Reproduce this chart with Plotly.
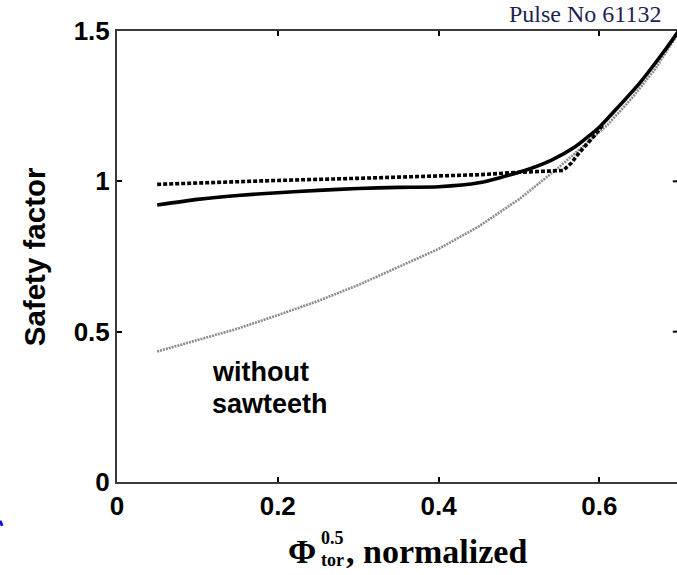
import plotly.graph_objects as go

# Normalised toroidal flux coordinate and safety-factor profiles
rho_solid = [0.05, 0.10, 0.15, 0.20, 0.25, 0.30, 0.35, 0.40, 0.45, 0.50,
             0.54, 0.57, 0.60, 0.62, 0.65, 0.68, 0.70]
q_solid = [0.921, 0.940, 0.953, 0.962, 0.970, 0.976, 0.980, 0.982, 0.995, 1.030,
           1.070, 1.115, 1.180, 1.237, 1.326, 1.430, 1.505]

rho_dashed = [0.05, 0.10, 0.20, 0.30, 0.40, 0.45, 0.50, 0.555, 0.565, 0.575,
              0.585, 0.595, 0.605]
q_dashed = [0.990, 0.995, 1.003, 1.010, 1.016, 1.022, 1.030, 1.036, 1.060, 1.095,
            1.125, 1.155, 1.190]

rho_nosaw = [0.05, 0.10, 0.15, 0.20, 0.25, 0.30, 0.35, 0.40, 0.45, 0.50,
             0.55, 0.58, 0.61, 0.64, 0.67, 0.70]
q_nosaw = [0.434, 0.471, 0.510, 0.555, 0.602, 0.655, 0.714, 0.775, 0.850, 0.940,
           1.047, 1.116, 1.187, 1.275, 1.375, 1.500]

x_ticks = [0, 0.2, 0.4, 0.6]
x_tick_labels = ["0", "0.2", "0.4", "0.6"]
y_ticks = [0, 0.5, 1, 1.5]
y_tick_labels = ["0", "0.5", "1", "1.5"]
right_ticks = [0.5, 1]

X_RANGE = [0, 0.6967]
Y_RANGE = [0, 1.5]

fig = go.Figure()

fig.add_trace(go.Scatter(
    x=rho_nosaw, y=q_nosaw, mode="lines",
    line=dict(color="#8c8c8c", width=2.6, dash="2px,1px"),
    showlegend=False, hoverinfo="skip"))
fig.add_trace(go.Scatter(
    x=rho_solid, y=q_solid, mode="lines",
    line=dict(color="black", width=3.6, shape="spline", smoothing=0.6),
    showlegend=False, hoverinfo="skip"))
fig.add_trace(go.Scatter(
    x=rho_dashed, y=q_dashed, mode="lines",
    line=dict(color="black", width=3.6, dash="4px,2px"),
    showlegend=False, hoverinfo="skip"))

tick_font = dict(family="Liberation Sans, Arial, sans-serif", size=26,
                 color="black", weight="bold")

fig.update_layout(
    width=677, height=575,
    margin=dict(l=117, r=0, t=31, b=93),
    paper_bgcolor="white", plot_bgcolor="white",
    xaxis=dict(
        range=X_RANGE, tickvals=x_ticks, ticktext=x_tick_labels,
        showgrid=False, zeroline=False,
        showline=True, linecolor="#3a3a3a", linewidth=2, mirror="ticks",
        ticks="inside", ticklen=5, tickwidth=1.5, tickcolor="black",
        tickfont=tick_font),
    yaxis=dict(
        range=Y_RANGE, tickvals=y_ticks, ticktext=y_tick_labels,
        showgrid=False, zeroline=False,
        showline=True, linecolor="#3a3a3a", linewidth=2, mirror=False,
        ticks="inside", ticklen=5, tickwidth=1.5, tickcolor="black",
        tickfont=tick_font),
)

# inward tick marks along the right-hand border
for yv in right_ticks:
    fig.add_shape(type="line", xref="paper", yref="y",
                  x0=0.9925, x1=1.0, y0=yv, y1=yv,
                  line=dict(color="black", width=2))

sans_bold = dict(family="Liberation Sans, Arial, sans-serif", size=27,
                 color="black", weight="bold")
serif_bold = "Liberation Serif, Times New Roman, serif"

annotations = [
    dict(text="Pulse No 61132", xref="paper", yref="paper", x=0.975, y=1.0385,
         xanchor="right", yanchor="middle", showarrow=False,
         font=dict(family="Liberation Serif, Times New Roman, serif", size=24,
                   color="#1f1f52")),
    dict(text="without", xref="x", yref="y", x=0.1157, y=0.366,
         xanchor="left", yanchor="middle", showarrow=False, font=sans_bold),
    dict(text="sawteeth", xref="x", yref="y", x=0.1157, y=0.258,
         xanchor="left", yanchor="middle", showarrow=False, font=sans_bold),
    dict(text="Safety factor", xref="paper", yref="paper", x=-0.146, y=0.499,
         xanchor="center", yanchor="middle", textangle=-90, showarrow=False,
         font=dict(family="Liberation Sans, Arial, sans-serif", size=29.5,
                   color="black", weight="bold")),
    dict(text="Φ", xref="paper", yref="paper", x=0.330, y=-0.153,
         xanchor="center", yanchor="middle", showarrow=False,
         font=dict(family=serif_bold, size=34, color="black", weight="bold")),
    dict(text="0.5", xref="paper", yref="paper", x=0.361, y=-0.125,
         xanchor="left", yanchor="middle", showarrow=False,
         font=dict(family=serif_bold, size=18, color="black", weight="bold")),
    dict(text="tor", xref="paper", yref="paper", x=0.361, y=-0.174,
         xanchor="left", yanchor="middle", showarrow=False,
         font=dict(family=serif_bold, size=18, color="black", weight="bold")),
    dict(text=", normalized", xref="paper", yref="paper", x=0.405, y=-0.153,
         xanchor="left", yanchor="middle", showarrow=False,
         font=dict(family=serif_bold, size=34, color="black", weight="bold")),
]
fig.update_layout(annotations=annotations)

# small blue stroke at the lower-left border
fig.add_shape(type="line", xref="paper", yref="paper",
              x0=-0.2089, y0=-0.086, x1=-0.2050, y1=-0.097,
              line=dict(color="#1010e0", width=3))

fig.write_html("out.html")
